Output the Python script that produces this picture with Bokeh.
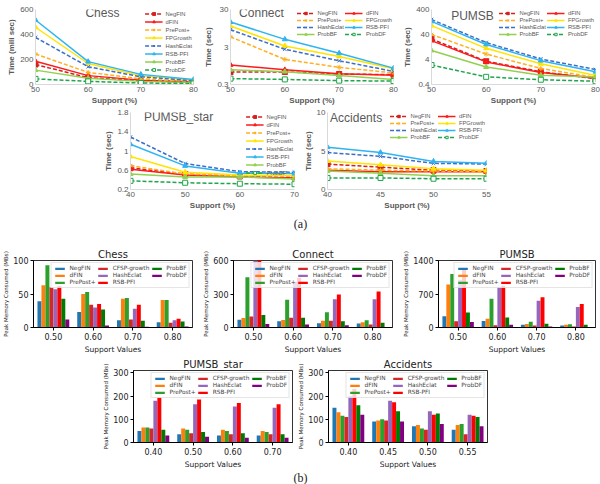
from bokeh.plotting import figure
from bokeh.models import (Range1d, FixedTicker, Legend, LegendItem, Label, Spacer,
                          ColumnDataSource, FactorRange)
from bokeh.transform import dodge
from bokeh.layouts import column, row
from bokeh.embed import file_html
from bokeh.resources import INLINE

# ---------------- data: run time (line charts) ----------------
LINE_ALGOS = ["NegFIN", "dFIN", "PrePost+", "FPGrowth", "HashEclat", "RSB-PFI", "ProbBF", "ProbDF"]

chess_support = [50, 60, 70, 80]
chess_time = {
    "NegFIN":    [160, 55, 30, 20],
    "dFIN":      [186, 71, 35, 22],
    "PrePost+":  [244, 97, 45, 25],
    "FPGrowth":  [458, 168, 70, 35],
    "HashEclat": [377, 142, 62, 30],
    "RSB-PFI":   [516, 183, 81, 40],
    "ProbBF":    [115, 50, 25, 15],
    "ProbDF":    [45, 25, 12, 8],
}

connect_support = [50, 60, 70, 80]
connect_time = {
    "NegFIN":    [0.65, 0.65, 0.57, 0.55],
    "dFIN":      [1.0, 0.74, 0.58, 0.53],
    "PrePost+":  [5.6, 1.4, 0.86, 0.61],
    "FPGrowth":  [10.9, 3.2, 1.67, 0.79],
    "HashEclat": [8.7, 2.6, 1.29, 0.67],
    "RSB-PFI":   [13.9, 4.8, 2.05, 0.82],
    "ProbBF":    [0.74, 0.66, 0.52, 0.41],
    "ProbDF":    [0.43, 0.41, 0.38, 0.37],
}

pumsb_support = [50, 60, 70, 80]
pumsb_time = {
    "NegFIN":    [26.6, 3.4, 1.3, 0.68],
    "dFIN":      [22.8, 3.2, 1.2, 0.72],
    "PrePost+":  [40, 6.6, 1.75, 0.77],
    "FPGrowth":  [91, 11.2, 2.7, 0.92],
    "HashEclat": [159, 19, 4.2, 1.6],
    "RSB-PFI":   [134, 16, 3.6, 1.3],
    "ProbBF":    [9.2, 2.0, 0.94, 0.8],
    "ProbDF":    [2.4, 0.81, 0.62, 0.54],
}

pumsbstar_support = [40, 50, 60, 70]
pumsbstar_time = {
    "NegFIN":    [0.65, 0.52, 0.47, 0.45],
    "dFIN":      [0.62, 0.50, 0.46, 0.44],
    "PrePost+":  [0.695, 0.52, 0.49, 0.48],
    "FPGrowth":  [0.885, 0.56, 0.50, 0.49],
    "HashEclat": [1.29, 0.74, 0.57, 0.56],
    "RSB-PFI":   [1.14, 0.69, 0.54, 0.53],
    "ProbBF":    [0.52, 0.46, 0.46, 0.42],
    "ProbDF":    [0.38, 0.34, 0.32, 0.31],
}

accidents_support = [40, 45, 50, 55]
accidents_time = {
    "NegFIN":    [3.3, 2.9, 2.5, 2.4],
    "dFIN":      [2.5, 2.3, 2.3, 2.3],
    "PrePost+":  [2.7, 2.5, 2.4, 2.3],
    "FPGrowth":  [3.7, 3.2, 2.7, 2.5],
    "HashEclat": [4.8, 4.3, 3.4, 3.3],
    "RSB-PFI":   [5.5, 4.8, 3.65, 3.4],
    "ProbBF":    [2.4, 2.1, 1.8, 1.8],
    "ProbDF":    [1.5, 1.5, 1.4, 1.4],
}

# ---------------- data: peak memory (bar charts) ----------------
BAR_ALGOS = ["NegFIN", "dFIN", "PrePost+", "CFSP-growth", "HashEclat", "RSB-PFI", "ProbBF", "ProbDF"]

chess_values = ["0.50", "0.60", "0.70", "0.80"]
chess_mem = {
    "NegFIN": [39, 23, 11, 8], "dFIN": [63, 50, 43, 41], "PrePost+": [93, 53, 44, 41],
    "CFSP-growth": [60, 34, 12, 7], "HashEclat": [57, 30, 28, 11], "RSB-PFI": [62, 35, 34, 13],
    "ProbBF": [43, 27, 10, 9], "ProbDF": [12, 3, 1, 1.5],
}
connect_values = ["0.50", "0.60", "0.70", "0.80"]
connect_mem = {
    "NegFIN": [70, 55, 38, 35], "dFIN": [84, 67, 61, 46], "PrePost+": [449, 249, 136, 64],
    "CFSP-growth": [99, 87, 61, 26], "HashEclat": [620, 409, 252, 252], "RSB-PFI": [640, 446, 296, 322],
    "ProbBF": [113, 87, 55, 43], "ProbDF": [32, 26, 20, 3],
}
pumsb_values = ["0.50", "0.60", "0.70", "0.80"]
pumsb_mem = {
    "NegFIN": [233, 137, 60, 40], "dFIN": [898, 185, 75, 55], "PrePost+": [1116, 600, 120, 70],
    "CFSP-growth": [130, 48, 40, 20], "HashEclat": [1000, 852, 560, 430], "RSB-PFI": [1220, 872, 630, 490],
    "ProbBF": [316, 210, 80, 60], "ProbDF": [117, 60, 20, 10],
}
pumsbstar_values = ["0.40", "0.50", "0.60", "0.70"]
pumsbstar_mem = {
    "NegFIN": [50, 35, 30, 30], "dFIN": [65, 60, 55, 50], "PrePost+": [65, 55, 50, 45],
    "CFSP-growth": [60, 40, 35, 35], "HashEclat": [180, 165, 155, 150], "RSB-PFI": [195, 185, 170, 165],
    "ProbBF": [55, 45, 40, 35], "ProbDF": [30, 25, 20, 20],
}
accidents_values = ["0.40", "0.45", "0.50", "0.55"]
accidents_mem = {
    "NegFIN": [150, 90, 70, 55], "dFIN": [130, 95, 75, 75], "PrePost+": [115, 100, 60, 80],
    "CFSP-growth": [110, 95, 55, 35], "HashEclat": [200, 180, 135, 120], "RSB-PFI": [230, 173, 120, 115],
    "ProbBF": [160, 135, 125, 110], "ProbDF": [120, 90, 80, 70],
}

# ---------------- styles ----------------
LINE_STYLE = {
    "NegFIN":    ("#D62020", "4 2", "square_x", "#D62020"),
    "dFIN":      ("#FF1A1A", "solid", "triangle", "#FF1A1A"),
    "PrePost+":  ("#FFB020", "4 2", "asterisk", "#FFB020"),
    "FPGrowth":  ("#FFE400", "solid", "triangle", "#FFE400"),
    "HashEclat": ("#3C6FC8", "4 2", "x", "#3C6FC8"),
    "RSB-PFI":   ("#2EB4F0", "solid", "triangle", "#2EB4F0"),
    "ProbBF":    ("#92D050", "solid", "triangle", "#92D050"),
    "ProbDF":    ("#1FA54A", "4 2", "square", "white"),
}
BAR_COLORS = ["#1f77b4", "#ff7f0e", "#2ca02c", "#d62728", "#9467bd", "#ff0000", "#007a00", "#800080"]
GREY = "#595959"
XL_FONT = "Liberation Sans"
MPL_FONT = "DejaVu Sans"


def line_chart(name, xs, data, yr, yticks, ylabel, w, h, bl, br, bt, title_xy,
               log=False, ncols=1):
    p = figure(width=w, height=h, x_range=Range1d(xs[0], xs[-1]), y_range=Range1d(*yr),
               y_axis_type="log" if log else "linear", output_backend="svg",
               toolbar_location=None, min_border_left=bl, min_border_right=br,
               min_border_top=bt, min_border_bottom=0)
    p.outline_line_color = None
    p.grid.visible = False
    p.background_fill_color = "white"
    for ax in (p.xaxis[0], p.yaxis[0]):
        ax.axis_line_color = "#D9D9D9"
        ax.major_tick_line_color = None
        ax.major_tick_out = 0
        ax.major_tick_in = 0
        ax.minor_tick_line_color = None
        ax.minor_tick_out = 0
        ax.minor_tick_in = 0
        ax.major_label_text_color = GREY
        ax.major_label_text_font = XL_FONT
        ax.major_label_text_font_size = "8px"
        ax.axis_label_text_font = XL_FONT
        ax.axis_label_text_font_size = "8px"
        ax.axis_label_text_font_style = "bold"
        ax.axis_label_text_color = GREY
        ax.major_label_standoff = 2
        ax.axis_label_standoff = 1
    p.xaxis.ticker = FixedTicker(ticks=xs)
    p.yaxis.ticker = FixedTicker(ticks=yticks)
    p.yaxis.major_label_overrides = {t: (str(t)) for t in yticks}
    p.xaxis.axis_label = "Support (%)"
    p.yaxis.axis_label = ylabel
    items = []
    for a in LINE_ALGOS:
        col, dash, mk, fill = LINE_STYLE[a]
        r1 = p.line(xs, data[a], line_color=col, line_width=1.5, line_dash=dash)
        r2 = p.scatter(xs, data[a], marker=mk, size=5, line_color=col, fill_color=fill)
        items.append(LegendItem(label=a, renderers=[r1, r2]))
    gh = 7 if ncols == 1 else 6
    leg = Legend(items=items, location="top_right", background_fill_alpha=0,
                 border_line_color=None, label_text_font=XL_FONT, label_text_font_size="5.8px",
                 label_text_color=GREY, glyph_width=18, glyph_height=gh, label_height=gh,
                 label_standoff=3, padding=0, margin=1, spacing=1)
    if ncols > 1:
        leg.orientation = "horizontal"
        leg.ncols = ncols
    p.add_layout(leg)
    p.add_layout(Label(x=title_xy[0], y=title_xy[1], text=name, text_font=XL_FONT,
                       text_font_size="12px", text_color=GREY, text_align="center",
                       text_baseline="middle"))
    return p


def bar_chart(name, cats, data, ymax, yticks, w, h, bl, br):
    p = figure(width=w, height=h, x_range=FactorRange(*cats), y_range=Range1d(0, ymax),
               output_backend="svg", toolbar_location=None, min_border_left=bl,
               min_border_right=br, min_border_top=0, min_border_bottom=0, title=name)
    p.title.align = "center"
    p.title.text_font = MPL_FONT
    p.title.text_font_size = "10px"
    p.title.text_font_style = "normal"
    p.title.text_color = "#222222"
    p.title.standoff = 1
    p.title.offset = 0
    p.outline_line_color = "black"
    p.outline_line_width = 0.8
    p.grid.visible = False
    for ax in (p.xaxis[0], p.yaxis[0]):
        ax.axis_line_color = "black"
        ax.major_tick_line_color = "black"
        ax.major_tick_out = 3
        ax.major_tick_in = 0
        ax.minor_tick_line_color = None
        ax.major_label_text_font = MPL_FONT
        ax.major_label_text_font_size = "8px"
        ax.major_label_text_color = "#222222"
        ax.axis_label_text_font = MPL_FONT
        ax.axis_label_text_font_style = "normal"
        ax.axis_label_text_color = "#222222"
        ax.major_label_standoff = 2
        ax.axis_label_standoff = 2
    p.xaxis.axis_label = "Support Values"
    p.xaxis.axis_label_text_font_size = "7.5px"
    p.yaxis.axis_label = "Peak Memory Consumed (MBs)"
    p.yaxis.axis_label_text_font_size = "5.5px"
    p.yaxis.axis_label_standoff = 1
    p.yaxis.ticker = FixedTicker(ticks=yticks)
    src = ColumnDataSource(dict(support=cats, **{f"a{i}": data[a] for i, a in enumerate(BAR_ALGOS)}))
    items = []
    for i, a in enumerate(BAR_ALGOS):
        r = p.vbar(x=dodge("support", (i - 3.5) * 0.1, range=p.x_range), top=f"a{i}", width=0.1,
                   source=src, fill_color=BAR_COLORS[i], line_color=None)
        items.append(LegendItem(label=a, renderers=[r]))
    leg = Legend(items=items, location="top_right", orientation="vertical", nrows=3,
                 background_fill_alpha=0.8, border_line_color="#cccccc", border_line_width=0.8,
                 label_text_font=MPL_FONT, label_text_font_size="5.8px", glyph_width=12,
                 glyph_height=3, label_height=5, label_standoff=4, padding=2, margin=2,
                 spacing=1)
    p.add_layout(leg)
    return p


# ---------------- run-time panels ----------------
f_chess = line_chart("Chess", chess_support, chess_time, (0, 600), [0, 200, 400, 600],
                     "Time (mili sec)", 200, 107, 35, 7, 8, (62.7, 570))
f_connect = line_chart("Connect", connect_support, connect_time, (0.3, 30), [0.3, 3, 30],
                       "Time (sec)", 200, 107, 30, 7, 9, (55.7, 24), log=True, ncols=2)
f_pumsb = line_chart("PUMSB", pumsb_support, pumsb_time, (0.4, 400), [0.4, 4, 40, 400],
                     "Time (sec)", 200, 107, 21, 5, 8, (57.5, 215), log=True, ncols=2)
f_pstar = line_chart("PUMSB_star", pumsbstar_support, pumsbstar_time, (0.2, 1.8),
                     [0.2, 0.6, 1, 1.4, 1.8], "Time (sec)", 200, 105, 30, 6, 5, (48.8, 1.70))
f_acc = line_chart("Accidents", accidents_support, accidents_time, (0, 10), [0, 5, 10],
                   "Time (sec)", 200, 105, 21, 14, 4, (42.7, 9.25), ncols=2)

# ---------------- memory panels ----------------
b_chess = bar_chart("Chess", chess_values, chess_mem, 100, [0, 50, 100], 200, 110, 28, 8)
b_connect = bar_chart("Connect", connect_values, connect_mem, 600, [0, 300, 600], 200, 110, 28, 8)
b_pumsb = bar_chart("PUMSB", pumsb_values, pumsb_mem, 1400, [0, 700, 1400], 200, 110, 20, 5)
b_pstar = bar_chart("PUMSB_star", pumsbstar_values, pumsbstar_mem, 310, [0, 100, 200, 300],
                    195, 115, 25, 3)
b_acc = bar_chart("Accidents", accidents_values, accidents_mem, 310, [0, 100, 200, 300],
                  200, 115, 30, 8)


def caption(text, h, ypos):
    p = figure(width=600, height=h, x_range=Range1d(0, 600), y_range=Range1d(0, h),
               output_backend="svg", toolbar_location=None, x_axis_location=None,
               y_axis_location=None, min_border=0)
    p.outline_line_color = None
    p.grid.visible = False
    p.add_layout(Label(x=300, y=ypos, text=text, text_font="Liberation Serif",
                       text_font_size="12px", text_align="center", text_baseline="middle",
                       text_color="#222222"))
    return p


layout = column(
    row(f_chess, f_connect, f_pumsb),
    row(Spacer(width=100, height=105), f_pstar, f_acc, Spacer(width=100, height=105)),
    caption("(a)", 34, 23),
    row(b_chess, b_connect, b_pumsb),
    row(Spacer(width=100, height=115), b_pstar, b_acc, Spacer(width=105, height=115)),
    caption("(b)", 13, 7),
    spacing=0,
)

open("out.html", "w").write(file_html(layout, INLINE))
